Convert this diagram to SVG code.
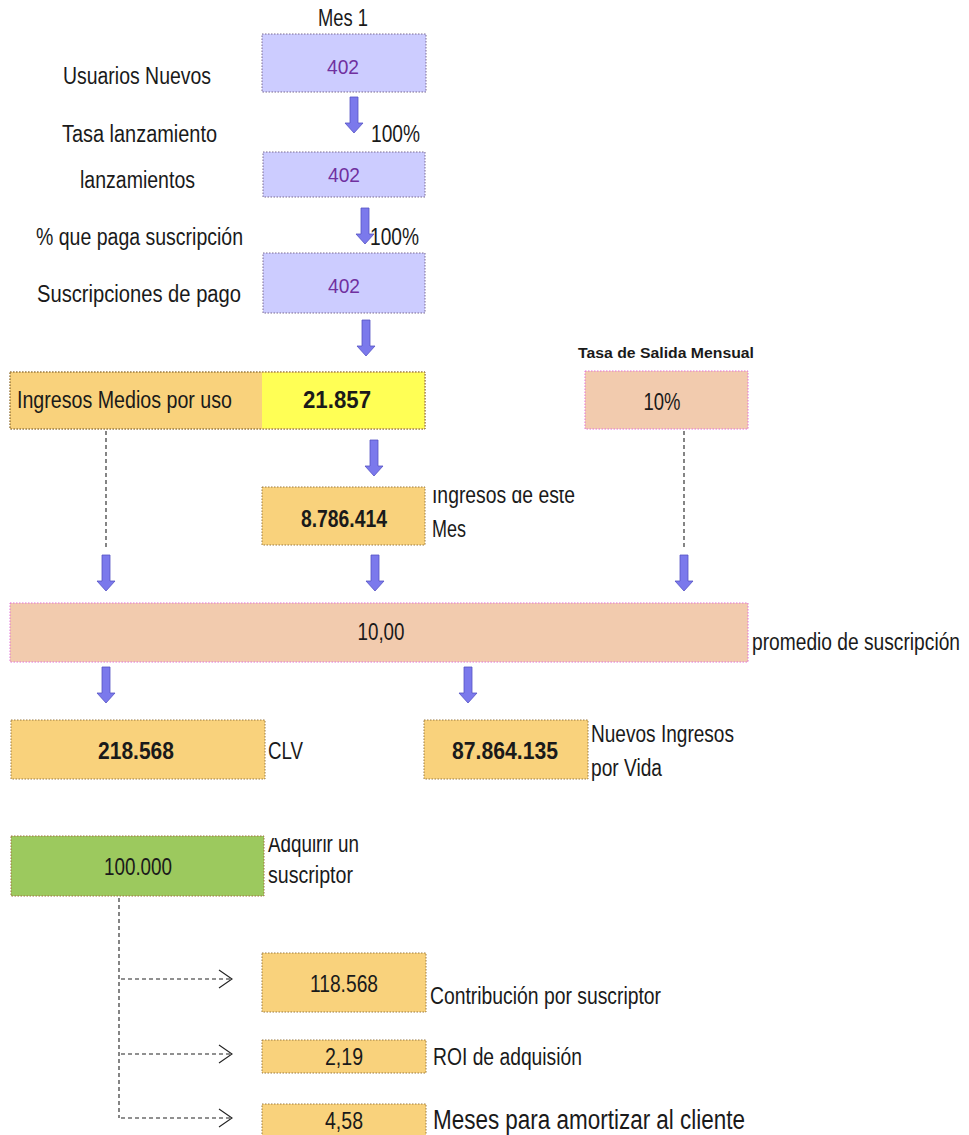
<svg xmlns="http://www.w3.org/2000/svg" width="969" height="1135" viewBox="0 0 969 1135">
<style>
text{font-family:"Liberation Sans",Arial,sans-serif;fill:#1a1a1a;font-size:23px}
.c{text-anchor:middle}
.b{font-weight:bold}
.pv{fill:#7030a0;font-size:21px}
.sm{font-size:14px;font-weight:bold}
.lg{font-size:27px}
.pbox{fill:#ccccff;stroke:#7a6a90;stroke-width:1;stroke-dasharray:1.5 1.5}
.obox{fill:#f9d27c;stroke:#9a7a40;stroke-width:1;stroke-dasharray:1.5 1.5}
.ybox{fill:#ffff55}
.kbox{fill:#f2cbae;stroke:#e070d8;stroke-width:1;stroke-dasharray:1.5 1.5}
.gbox{fill:#9cc95e;stroke:#a07040;stroke-width:1;stroke-dasharray:1.5 1.5}
.dash{fill:none;stroke:#222;stroke-width:1.1;stroke-dasharray:4 3}
.chev{fill:none;stroke:#222;stroke-width:1.1}
.blk{fill:#7b79ec;stroke:#5553c4;stroke-width:0.8}
</style>
<defs>
<path id="ba" d="M-4,0 H4 V26 H9 L0,36 L-9,26 H-4 Z"/>
<clipPath id="clipA"><rect x="425" y="490" width="200" height="70"/></clipPath>
<clipPath id="clipB"><rect x="264" y="838" width="150" height="70"/></clipPath>
</defs>
<rect width="969" height="1135" fill="#ffffff"/>

<g id="connectors">
<use href="#ba" class="blk" transform="translate(354,97)"/>
<use href="#ba" class="blk" transform="translate(365,208)"/>
<use href="#ba" class="blk" transform="translate(366,320)"/>
<use href="#ba" class="blk" transform="translate(374,440)"/>
<use href="#ba" class="blk" transform="translate(106,555)"/>
<use href="#ba" class="blk" transform="translate(375,555)"/>
<use href="#ba" class="blk" transform="translate(684,555)"/>
<use href="#ba" class="blk" transform="translate(106,667)"/>
<use href="#ba" class="blk" transform="translate(468,667)"/>
<path class="dash" d="M106,431 V550"/>
<path class="dash" d="M684,431 V550"/>
<path class="dash" d="M119,898 V1118 M121,979 H231 M121,1054 H231 M121,1118 H231"/>
<path class="chev" d="M219,970 L232,979 L219,988 M219,1045 L232,1054 L219,1063 M219,1109 L232,1118 L219,1127"/>
</g>

<text class="c" x="343" y="26" font-size="22" textLength="50" lengthAdjust="spacingAndGlyphs">Mes 1</text>

<g id="n-usuarios">
<rect class="pbox" x="262" y="34" width="164" height="58"/>
<text class="c pv" x="343" y="74" textLength="32" lengthAdjust="spacingAndGlyphs">402</text>
<text x="63" y="84" font-size="22" textLength="148" lengthAdjust="spacingAndGlyphs">Usuarios Nuevos</text>
</g>

<g id="n-tasa-lanz">
<text x="62" y="142" font-size="22" textLength="155" lengthAdjust="spacingAndGlyphs">Tasa lanzamiento</text>
<text x="371" y="142" font-size="22" textLength="49" lengthAdjust="spacingAndGlyphs">100%</text>
</g>

<g id="n-lanzamientos">
<rect class="pbox" x="263" y="152" width="162" height="45"/>
<text class="c pv" x="344" y="182" textLength="32" lengthAdjust="spacingAndGlyphs">402</text>
<text x="80" y="188" font-size="22" textLength="115" lengthAdjust="spacingAndGlyphs">lanzamientos</text>
</g>

<g id="n-pct-paga">
<text x="36" y="245" font-size="22" textLength="207" lengthAdjust="spacingAndGlyphs">% que paga suscripción</text>
<text x="370" y="245" font-size="22" textLength="49" lengthAdjust="spacingAndGlyphs">100%</text>
</g>

<g id="n-suscripciones">
<rect class="pbox" x="263" y="253" width="162" height="60"/>
<text class="c pv" x="344" y="293" textLength="32" lengthAdjust="spacingAndGlyphs">402</text>
<text x="37" y="302" font-size="22" textLength="204" lengthAdjust="spacingAndGlyphs">Suscripciones  de pago</text>
</g>

<g id="n-ingresos-medios">
<rect class="obox" x="10" y="372" width="415" height="57"/>
<rect class="ybox" x="262" y="372.5" width="162.5" height="56"/>
<rect x="10" y="372" width="415" height="57" fill="none" stroke="#9a7a40" stroke-width="1" stroke-dasharray="1.5 1.5"/>
<text x="17" y="408" textLength="215" lengthAdjust="spacingAndGlyphs">Ingresos Medios por uso</text>
<text class="c b" x="337" y="408" font-size="22" textLength="68" lengthAdjust="spacingAndGlyphs">21.857</text>
</g>

<g id="n-tasa-salida">
<text class="c sm" x="666" y="358" textLength="176" lengthAdjust="spacingAndGlyphs">Tasa de Salida Mensual</text>
<rect class="kbox" x="585" y="371" width="163" height="58"/>
<text class="c" x="662" y="410" textLength="37" lengthAdjust="spacingAndGlyphs">10%</text>
</g>

<g id="n-ingresos-mes">
<rect class="obox" x="262" y="487" width="163" height="58"/>
<text class="c b" x="344" y="527" textLength="86" lengthAdjust="spacingAndGlyphs">8.786.414</text>
<text x="432" y="503" clip-path="url(#clipA)" textLength="143" lengthAdjust="spacingAndGlyphs">Ingresos de este</text>
<text x="432" y="537" textLength="34" lengthAdjust="spacingAndGlyphs">Mes</text>
</g>

<g id="n-promedio">
<rect class="kbox" x="10" y="603" width="738" height="59"/>
<text class="c" x="381" y="640" textLength="47" lengthAdjust="spacingAndGlyphs">10,00</text>
<text x="752" y="650" font-size="19.5" textLength="208" lengthAdjust="spacingAndGlyphs">promedio de suscripción</text>
</g>

<g id="n-clv">
<rect class="obox" x="11" y="720" width="254" height="59"/>
<text class="c b" x="136" y="759" textLength="76" lengthAdjust="spacingAndGlyphs">218.568</text>
<text x="268" y="759" textLength="35" lengthAdjust="spacingAndGlyphs">CLV</text>
</g>

<g id="n-nuevos-ingresos">
<rect class="obox" x="424" y="720" width="164" height="59"/>
<text class="c b" x="505" y="759" textLength="106" lengthAdjust="spacingAndGlyphs">87.864.135</text>
<text x="591" y="742" textLength="143" lengthAdjust="spacingAndGlyphs">Nuevos Ingresos</text>
<text x="591" y="776" textLength="71" lengthAdjust="spacingAndGlyphs">por Vida</text>
</g>

<g id="n-adquirir">
<rect class="gbox" x="11" y="836" width="253" height="60"/>
<text class="c" x="138" y="875" textLength="68" lengthAdjust="spacingAndGlyphs">100.000</text>
<text x="268" y="852" clip-path="url(#clipB)" textLength="91" lengthAdjust="spacingAndGlyphs">Adquirir un</text>
<text x="268" y="883" textLength="85" lengthAdjust="spacingAndGlyphs">suscriptor</text>
</g>

<g id="n-contribucion">
<rect class="obox" x="262" y="953" width="164" height="59"/>
<text class="c" x="344" y="992" textLength="68" lengthAdjust="spacingAndGlyphs">118.568</text>
<text x="430" y="1004" textLength="231" lengthAdjust="spacingAndGlyphs">Contribución por suscriptor</text>
</g>

<g id="n-roi">
<rect class="obox" x="262" y="1040" width="164" height="33"/>
<text class="c" x="344" y="1065" textLength="38" lengthAdjust="spacingAndGlyphs">2,19</text>
<text x="433" y="1065" textLength="149" lengthAdjust="spacingAndGlyphs">ROI de adquisión</text>
</g>

<g id="n-meses">
<rect class="obox" x="262" y="1104" width="164" height="40"/>
<text class="c" x="344" y="1129" textLength="38" lengthAdjust="spacingAndGlyphs">4,58</text>
<text class="lg" x="433" y="1129" textLength="312" lengthAdjust="spacingAndGlyphs">Meses para amortizar al cliente</text>
</g>
</svg>
